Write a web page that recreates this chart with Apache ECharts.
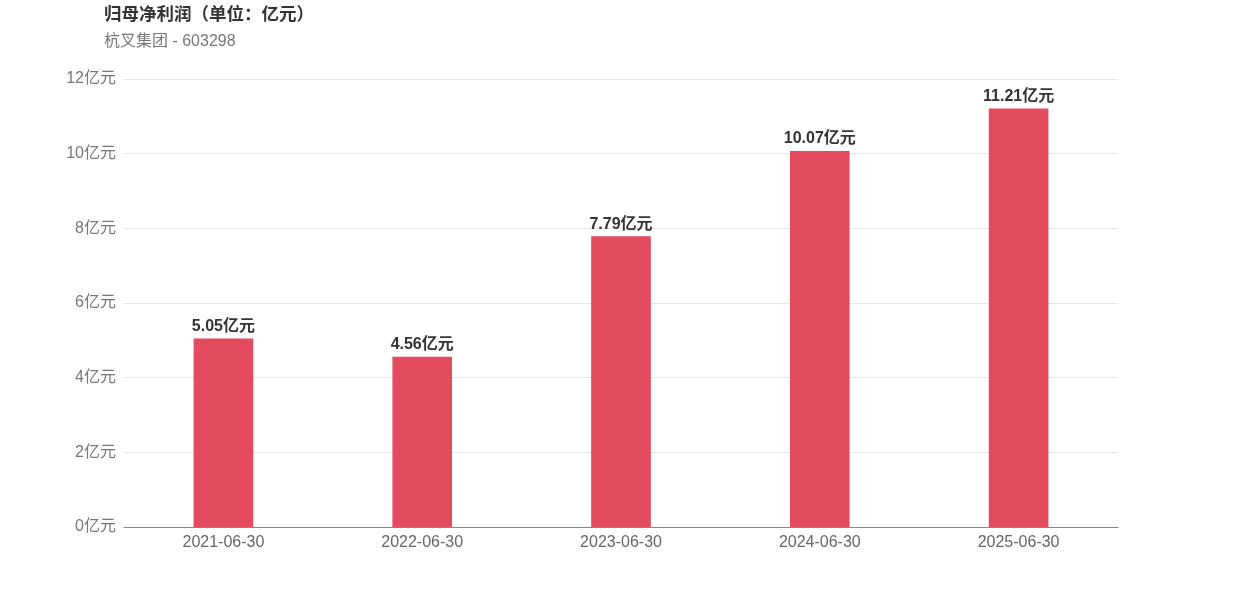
<!DOCTYPE html>
<html><head><meta charset="utf-8">
<script src="https://cdn.jsdelivr.net/npm/echarts@6/dist/echarts.min.js"></script>
<style>html,body{margin:0;padding:0;background:#fff}#c{width:1242px;height:596px}</style>
</head><body><div id="c"></div>
<script>
const categories = ['2021-06-30','2022-06-30','2023-06-30','2024-06-30','2025-06-30'];
const values = [5.05, 4.56, 7.79, 10.07, 11.21];
const titleText = '归母净利润（单位：亿元）';
const subText = '杭叉集团 - 603298';
const font = '"Liberation Sans", "Noto Sans CJK SC", sans-serif';
const chart = echarts.init(document.getElementById('c'));
chart.setOption({
  animation: false,
  textStyle: { fontFamily: font },
  title: {
    text: titleText, subtext: subText, left: 99, top: 1,
    textStyle: { fontSize: 17.5, fontWeight: 'bold', color: '#333', fontFamily: font },
    subtextStyle: { fontSize: 16, color: '#777', fontFamily: font },
    itemGap: 10
  },
  grid: { left: 124, right: 124, top: 79, bottom: 69, containLabel: false },
  xAxis: {
    type: 'category', data: categories,
    axisLine: { lineStyle: { color: '#888' } },
    axisTick: { show: false },
    axisLabel: { color: '#666', fontSize: 16, margin: 8, fontFamily: font }
  },
  yAxis: {
    type: 'value', min: 0, max: 12, interval: 2,
    axisLabel: { formatter: '{value}亿元', color: '#777', fontSize: 16, margin: 8, fontFamily: font },
    splitLine: { lineStyle: { color: '#e6e6e6' } },
    axisLine: { show: false }, axisTick: { show: false }
  },
  series: [{
    type: 'bar', data: values, barWidth: '30%',
    itemStyle: { color: '#E54B5E' },
    label: { show: true, position: 'top', formatter: p => p.value.toFixed(2) + '亿元',
      color: '#333', fontWeight: 'bold', fontSize: 16, distance: 4, fontFamily: font }
  }]
});
</script></body></html>
